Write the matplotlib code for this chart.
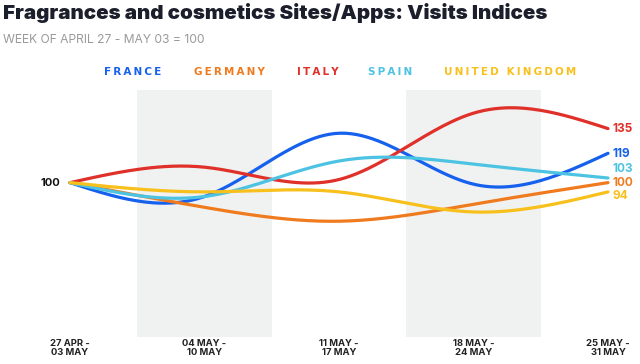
import matplotlib.pyplot as plt
import numpy as np

# data
weeks = ['27 APR -\n03 MAY', '04 MAY -\n10 MAY', '11 MAY -\n17 MAY', '18 MAY -\n24 MAY', '25 MAY -\n31 MAY']
countries = ['FRANCE', 'GERMANY', 'ITALY', 'SPAIN', 'UNITED KINGDOM']
france = [100, 91, 132, 99, 119]
germany = [100, 84, 75, 86, 100]
italy = [100, 110, 102, 145, 135]
spain = [100, 91, 114, 112, 103]
uk = [100, 94, 94, 81, 94]

colors = ['#1660ee', '#f07b1f', '#e0302a', '#4dc3e3', '#f8c01c']
series = [france, germany, italy, spain, uk]


def natural_spline(x, y, n=200):
    # natural cubic spline through the points
    x = np.asarray(x, float)
    y = np.asarray(y, float)
    k = len(x)
    h = np.diff(x)
    A = np.zeros((k, k))
    b = np.zeros(k)
    A[0, 0] = 1
    A[-1, -1] = 1
    for i in range(1, k - 1):
        A[i, i - 1] = h[i - 1]
        A[i, i] = 2 * (h[i - 1] + h[i])
        A[i, i + 1] = h[i]
        b[i] = 3 * ((y[i + 1] - y[i]) / h[i] - (y[i] - y[i - 1]) / h[i - 1])
    c = np.linalg.solve(A, b)
    xs = np.linspace(x[0], x[-1], n)
    ys = np.zeros_like(xs)
    for j, xv in enumerate(xs):
        i = min(np.searchsorted(x, xv, side='right') - 1, k - 2)
        dx = xv - x[i]
        bb = (y[i + 1] - y[i]) / h[i] - h[i] * (2 * c[i] + c[i + 1]) / 3
        d = (c[i + 1] - c[i]) / (3 * h[i])
        ys[j] = y[i] + bb * dx + c[i] * dx ** 2 + d * dx ** 3
    return xs, ys


plt.rcParams['font.family'] = ['Inter', 'DejaVu Sans']

fig = plt.figure(figsize=(6.4, 3.64), dpi=100)
ax = fig.add_axes([0, 27 / 364, 1, 247 / 364])
xpos = np.arange(len(weeks))
ax.set_xlim(-70 / 134.5, 570 / 134.5)
ax.set_ylim(0, 160)
ax.axis('off')

for s in (1, 3):
    ax.axvspan(s - 0.5, s + 0.5, color='#f0f1f1', zorder=0, lw=0)

for vals, col in zip(series, colors):
    xs, ys = natural_spline(xpos, vals)
    ax.plot(xs, ys, color=col, lw=2.3, solid_capstyle='round', zorder=3)

# end labels
ends = [119, 100, 135, 103, 94]
end_y = [118.8, 100, 134.5, 109, 91.5]
for v, yy, col in zip(ends, end_y, colors):
    ax.text(4.03, yy, str(v), color=col, fontsize=8.5, fontweight='bold', va='center', ha='left')
ax.text(-0.07, 100, '100', color='#111111', fontsize=8, fontweight='bold', va='center', ha='right')

# x labels
for x, lab in zip(xpos, weeks):
    ax.text(x, -1.5, lab, color='#222222', fontsize=6.8, fontweight='bold', ha='center', va='top',
            linespacing=0.95, clip_on=False)

# legend
leg_x = [133, 229, 318, 390, 510]
for name, col, lx in zip(countries, colors, leg_x):
    fig.text(lx / 640, 1 - 72 / 364, '\u2009'.join(name), color=col, fontsize=7.5, fontweight='bold',
             ha='center', va='center', family=['DejaVu Sans'])

fig.text(3 / 640, 1 - 13 / 364, 'Fragrances and cosmetics Sites/Apps: Visits Indices', fontsize=14.8,
         fontweight=900, color='#1b1f2c', ha='left', va='center')
fig.text(3 / 640, 1 - 40 / 364, 'WEEK OF APRIL 27 - MAY 03 = 100', fontsize=8.7, color='#9a9a9a',
         ha='left', va='center')

fig.savefig('out.png', dpi=100, facecolor='white')
